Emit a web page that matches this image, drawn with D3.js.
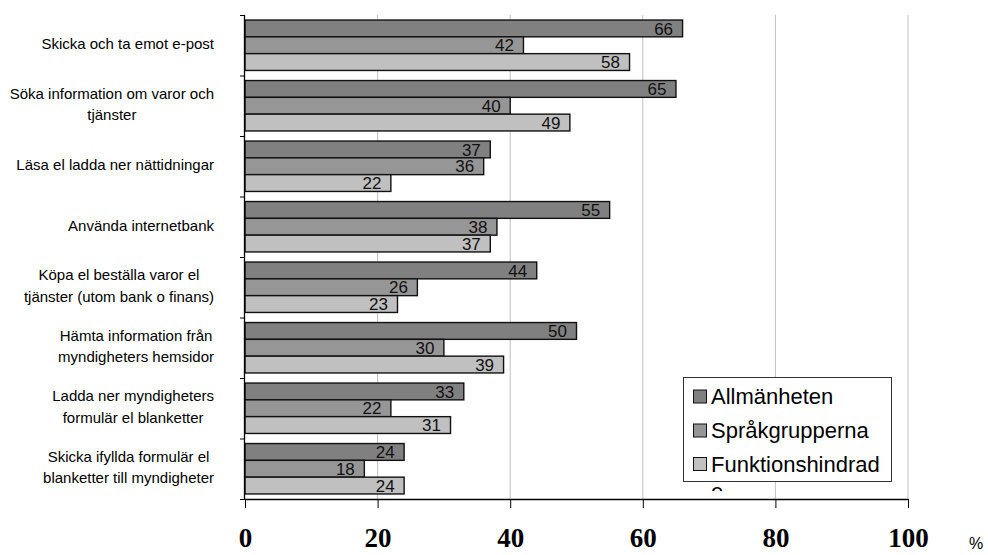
<!DOCTYPE html>
<html><head><meta charset="utf-8">
<script src="https://cdn.jsdelivr.net/npm/d3@7"></script>
<style>
html,body{margin:0;padding:0;background:#fff;}
svg{display:block;}
</style></head>
<body>
<svg id="chart" width="988" height="555"></svg>
<script>
const categories = [
  "Skicka och ta emot e-post",
  "Söka information om varor och\ntjänster",
  "Läsa el ladda ner nättidningar",
  "Använda internetbank",
  "Köpa el beställa varor el\ntjänster (utom bank o finans)",
  "Hämta information från\nmyndigheters hemsidor",
  "Ladda ner myndigheters\nformulär el blanketter",
  "Skicka ifyllda formulär el\nblanketter till myndigheter"
];
const seriesNames = ["Allmänheten", "Språkgrupperna", "Funktionshindrad"];
const allmanheten      = [66, 65, 37, 55, 44, 50, 33, 24];
const sprakgrupperna   = [42, 40, 36, 38, 26, 30, 22, 18];
const funktionshindrad = [58, 49, 22, 37, 23, 39, 31, 24];
const xTicks = [0, 20, 40, 60, 80, 100];
const xTickLabels = ["0", "20", "40", "60", "80", "100"];
const colors = ["#808080", "#969696", "#c0c0c0"];

(function () {
const seriesValues = [allmanheten, sprakgrupperna, funktionshindrad];
const svg = d3.select("#chart");

const pLeft = 245, pRight = 908, pTop = 15, pBottom = 499;
const x = d3.scaleLinear().domain([0, 100]).range([pLeft, pRight]);
const y = d3.scaleBand().domain(categories).range([pTop, pBottom]);
const y1 = d3.scaleBand().domain(seriesNames).range([0, y.bandwidth()]).paddingOuter(0.3);
const yIdx = d3.scaleLinear().domain([0, categories.length]).range([pTop, pBottom]);

// gridlines
svg.append("g").selectAll("line").data(xTicks.filter(d => d > 0)).join("line")
  .attr("x1", d => x(d)).attr("x2", d => x(d))
  .attr("y1", pTop).attr("y2", pBottom)
  .attr("stroke", "#c0c0c0").attr("stroke-width", 1);

// bars
const groups = svg.append("g").selectAll("g").data(categories).join("g")
  .attr("transform", c => `translate(0,${y(c)})`);

groups.each(function(c, i) {
  const g = d3.select(this);
  seriesNames.forEach((s, j) => {
    const v = seriesValues[j][i];
    g.append("rect")
      .attr("x", x(0)).attr("y", y1(s))
      .attr("width", x(v) - x(0)).attr("height", y1.bandwidth())
      .attr("fill", colors[j]).attr("stroke", "#111").attr("stroke-width", 1.4);
    g.append("text")
      .attr("x", x(v) - 9.5).attr("y", y1(s) + y1.bandwidth() / 2)
      .attr("dy", "0.36em")
      .attr("text-anchor", "end")
      .attr("font-family", "Liberation Sans, Arial, sans-serif")
      .attr("font-size", 17).attr("fill", "#111")
      .text(v);
  });
});

// y axis
const yAxis = svg.append("g").attr("transform", `translate(${pLeft},0)`)
  .call(d3.axisLeft(yIdx).ticks(categories.length).tickSize(5).tickFormat(""));
yAxis.select(".domain").attr("d", `M-0.5,${pTop}V${pBottom}`).attr("stroke", "#000").attr("stroke-width", 1.3);
yAxis.selectAll(".tick line").attr("stroke", "#000");

// category labels
const labelRight = 214;
const catFont = "15px 'Liberation Sans', Arial, sans-serif";
const ctx = document.createElement("canvas").getContext("2d");
ctx.font = catFont;
categories.forEach(c => {
  const lines = c.split("\n");
  const maxW = d3.max(lines, l => ctx.measureText(l).width);
  const cx = labelRight - maxW / 2;
  const lh = 21.5;
  const cy = y(c) + y.bandwidth() / 2 - 1.5;
  const t = svg.append("text")
    .attr("text-anchor", "middle")
    .attr("font-family", "Liberation Sans, Arial, sans-serif")
    .attr("font-size", 15).attr("fill", "#000");
  lines.forEach((l, k) => {
    t.append("tspan").attr("x", cx)
      .attr("y", cy + (k - (lines.length - 1) / 2) * lh)
      .attr("dy", "0.36em").text(l);
  });
});

// x axis
const xAxis = svg.append("g").attr("transform", `translate(0,${pBottom})`)
  .call(d3.axisBottom(x).tickValues(xTicks).tickSize(9).tickPadding(20)
    .tickFormat((d, i) => xTickLabels[i]));
xAxis.select(".domain").attr("d", `M${pLeft},0.5H${pRight}`).attr("stroke", "#000").attr("stroke-width", 1.3);
xAxis.selectAll(".tick line").attr("stroke", "#000");
xAxis.selectAll(".tick text")
  .attr("font-family", "Liberation Serif, 'Times New Roman', serif")
  .attr("font-weight", "bold").attr("font-size", 27).attr("fill", "#000");

svg.append("text").attr("x", 969).attr("y", 549)
  .attr("font-family", "Liberation Sans, Arial, sans-serif")
  .attr("font-size", 16).text("%");

// legend
const lg = svg.append("g");
lg.append("rect").attr("x", 683.5).attr("y", 377.5).attr("width", 208).attr("height", 104)
  .attr("fill", "#fff").attr("stroke", "#333").attr("stroke-width", 1);
const legY = [396.5, 430.5, 464];
seriesNames.forEach((s, j) => {
  lg.append("rect").attr("x", 693.5).attr("y", legY[j] - 6.5).attr("width", 13).attr("height", 13)
    .attr("fill", colors[j]).attr("stroke", "#111").attr("stroke-width", 1);
  lg.append("text").attr("x", 711).attr("y", legY[j]).attr("dy", "0.36em")
    .attr("font-family", "Liberation Sans, Arial, sans-serif")
    .attr("font-size", 22).attr("fill", "#000").text(s);
});
// wrapped remainder of "Funktionshindrade", clipped by the chart area
svg.append("clipPath").attr("id", "legclip")
  .append("rect").attr("x", 700).attr("y", 483).attr("width", 40).attr("height", 8);
svg.append("text").attr("x", 711).attr("y", 499)
  .attr("clip-path", "url(#legclip)")
  .attr("font-family", "Liberation Sans, Arial, sans-serif")
  .attr("font-size", 22).attr("fill", "#000").text("e");
})();
</script>
</body></html>
